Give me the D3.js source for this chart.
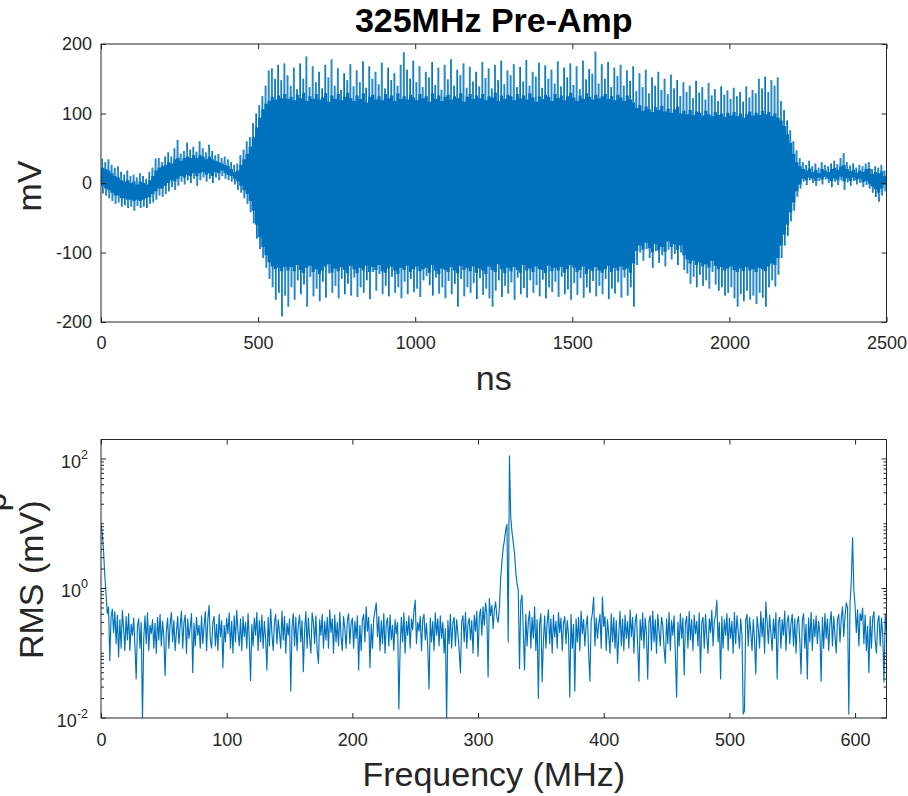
<!DOCTYPE html>
<html>
<head>
<meta charset="utf-8">
<script src="https://cdn.jsdelivr.net/npm/d3@7"></script>
<style>
  html, body { margin: 0; padding: 0; background: #fff; }
  svg { display: block; font-family: "Liberation Sans", Arial, Helvetica, sans-serif; }
</style>
</head>
<body>
<svg id="chart" width="908" height="796"></svg>
<script>
// ---- Time record, per 10 ns bin (mV) ----
const timeBinNs = 10;
// highest and lowest sample in each bin
const peakHigh = [
  35,30,34,26,22,24,16,12,18,10,
  12,8,14,10,6,16,22,35,36,30,
  38,44,38,50,62,42,46,58,48,52,
  45,60,50,44,55,46,40,42,36,38,
  34,30,26,28,40,48,60,66,86,100,
  112,125,140,162,165,150,170,148,172,155,
  140,166,135,172,150,182,138,168,145,160,
  136,170,152,178,140,165,134,158,148,171,
  139,162,145,175,137,168,150,160,142,173,
  136,166,148,158,140,170,188,163,150,176,
  145,168,138,160,152,174,141,166,134,170,
  149,178,140,163,155,172,137,167,146,160,
  139,174,151,165,136,170,148,176,142,162,
  155,171,138,167,146,177,140,160,153,173,
  137,169,150,163,143,175,139,166,152,172,
  141,168,135,176,149,164,157,189,143,171,
  150,174,138,166,154,170,140,162,147,168,
  132,158,138,163,129,152,140,160,134,150,
  128,156,136,148,125,145,131,140,122,147,
  130,138,120,144,126,135,118,139,127,133,
  121,137,125,131,117,139,123,134,129,150,
  136,153,131,148,140,152,118,105,90,76,
  60,47,36,30,26,32,24,28,22,30,
  26,24,28,32,27,36,43,30,25,28,
  22,26,24,28,30,20,24,22,26,18
];
const peakLow = [
  -15,-18,-22,-26,-30,-28,-34,-32,-36,-34,
  -40,-33,-36,-34,-36,-30,-28,-24,-18,-20,
  -16,-12,-6,-10,-4,2,-2,4,0,6,
  -4,4,8,2,6,0,8,4,10,6,
  4,2,-2,-10,-14,-22,-30,-42,-58,-80,
  -95,-108,-122,-138,-150,-168,-158,-192,-162,-178,
  -150,-168,-140,-160,-146,-178,-135,-163,-152,-170,
  -142,-165,-130,-158,-148,-166,-138,-160,-145,-162,
  -136,-164,-150,-158,-140,-167,-128,-155,-131,-160,
  -148,-163,-135,-158,-150,-166,-142,-160,-138,-157,
  -152,-164,-140,-134,-147,-162,-136,-159,-150,-166,
  -141,-160,-145,-178,-138,-163,-150,-158,-144,-167,
  -137,-161,-152,-166,-178,-155,-140,-164,-148,-159,
  -143,-168,-136,-160,-151,-165,-140,-158,-147,-163,
  -139,-166,-150,-157,-142,-164,-135,-160,-153,-168,
  -144,-161,-137,-165,-150,-158,-141,-163,-148,-160,
  -138,-167,-152,-159,-143,-165,-136,-162,-150,-178,
  -118,-100,-112,-95,-108,-122,-98,-115,-104,-120,
  -96,-110,-102,-118,-100,-125,-130,-145,-135,-150,
  -132,-148,-140,-152,-128,-146,-155,-150,-162,-158,
  -150,-166,-178,-160,-170,-155,-168,-162,-174,-158,
  -165,-178,-150,-140,-149,-132,-108,-90,-76,-55,
  -40,-20,-8,2,-3,4,0,-4,3,-2,
  5,0,-6,2,-3,4,-10,1,-4,3,
  -2,0,-6,-3,-8,-14,-20,-27,-18,-12
];
// edges of the solid part of the trace, where the strokes overlap
const denseHigh = [
  22,20,18,14,10,8,4,2,4,0,
  2,-2,2,0,-2,4,10,18,22,24,
  26,30,28,34,36,32,36,38,36,40,
  36,40,38,34,38,34,32,30,28,26,
  24,20,16,18,26,34,42,52,66,80,
  94,106,114,118,124,120,126,122,128,121,
  124,119,127,122,130,118,125,121,128,120,
  123,129,117,126,121,128,119,124,130,122,
  118,126,121,129,116,124,127,120,125,119,
  128,122,126,118,129,121,125,120,127,123,
  119,128,122,125,117,129,121,126,118,124,
  127,120,125,122,129,117,124,128,121,126,
  122,128,119,125,123,130,118,126,121,127,
  125,119,128,122,126,120,129,123,117,125,
  121,127,124,118,128,122,126,119,125,130,
  123,118,126,121,129,124,120,127,122,125,
  128,121,125,119,127,123,118,126,120,116,
  108,112,104,110,106,102,109,105,111,103,
  107,101,106,110,100,104,99,105,98,103,
  101,97,104,99,96,102,98,100,95,101,
  97,102,96,100,94,99,103,97,101,98,
  104,99,102,96,100,94,90,82,70,58,
  42,30,24,20,18,21,16,19,14,20,
  18,16,20,22,19,24,26,20,17,19,
  15,18,16,20,21,13,16,14,17,10
];
const denseLow = [
  -4,-8,-10,-14,-18,-18,-22,-22,-24,-24,
  -26,-24,-26,-24,-22,-20,-16,-12,-8,-8,
  -4,0,4,2,6,10,8,12,10,14,
  10,14,16,12,14,10,16,14,18,14,
  12,10,6,2,-4,-10,-16,-26,-40,-60,
  -78,-92,-104,-114,-120,-124,-122,-127,-121,-126,
  -121,-127,-118,-125,-130,-122,-119,-128,-124,-131,
  -126,-120,-117,-129,-123,-127,-121,-125,-130,-119,
  -124,-130,-122,-126,-119,-128,-121,-125,-118,-127,
  -129,-123,-120,-126,-131,-122,-125,-119,-128,-124,
  -120,-127,-124,-122,-129,-118,-126,-131,-123,-125,
  -128,-121,-126,-130,-119,-125,-122,-127,-120,-129,
  -123,-126,-131,-120,-125,-128,-117,-124,-130,-122,
  -127,-121,-125,-129,-118,-126,-123,-128,-120,-124,
  -125,-130,-119,-127,-122,-126,-121,-129,-124,-118,
  -122,-128,-125,-120,-131,-124,-127,-121,-126,-129,
  -124,-119,-128,-122,-126,-120,-125,-123,-129,-116,
  -98,-90,-96,-86,-94,-100,-88,-97,-92,-99,
  -84,-92,-88,-96,-90,-104,-110,-116,-112,-118,
  -114,-120,-117,-122,-112,-119,-124,-121,-126,-123,
  -120,-125,-128,-123,-127,-121,-126,-124,-128,-122,
  -124,-127,-120,-116,-118,-108,-90,-74,-60,-42,
  -28,-12,-2,6,4,8,6,3,8,5,
  9,6,3,7,4,9,2,7,3,8,
  4,6,1,3,-1,-5,-9,-14,-8,-3
];

// ---- Spectrum: RMS amplitude (mV) per 1 MHz bin, 0 to 625 MHz ----
const freqStepMHz = 1;
const rmsValues = [
  9.6,7.2,3.9,1.6,0.82,0.41,0.52,0.077,0.36,0.48,
  0.21,0.44,0.14,0.39,0.088,0.33,0.12,0.46,0.24,0.11,
  0.37,0.16,0.41,0.11,0.28,0.19,0.35,0.13,0.04,0.26,
  0.34,0.12,0.3,0.009,0.17,0.38,0.14,0.42,0.11,0.27,
  0.2,0.33,0.12,0.29,0.1,0.36,0.16,0.4,0.13,0.31,
  0.18,0.045,0.22,0.35,0.12,0.28,0.43,0.15,0.32,0.11,
  0.21,0.37,0.14,0.27,0.45,0.12,0.3,0.39,0.1,0.34,
  0.17,0.25,0.41,0.05,0.29,0.13,0.36,0.19,0.27,0.12,
  0.38,0.14,0.26,0.44,0.11,0.33,0.55,0.16,0.12,0.3,
  0.37,0.13,0.28,0.11,0.4,0.18,0.32,0.06,0.27,0.15,
  0.35,0.2,0.42,0.12,0.31,0.1,0.38,0.15,0.46,0.22,
  0.13,0.34,0.11,0.37,0.18,0.3,0.12,0.41,0.16,0.038,
  0.28,0.13,0.35,0.19,0.43,0.11,0.32,0.15,0.39,0.12,
  0.31,0.17,0.055,0.36,0.13,0.48,0.2,0.11,0.3,0.4,
  0.14,0.33,0.21,0.12,0.45,0.16,0.37,0.1,0.29,0.19,
  0.34,0.026,0.25,0.41,0.13,0.36,0.11,0.27,0.39,0.15,
  0.32,0.052,0.22,0.44,0.12,0.35,0.17,0.1,0.42,0.3,
  0.14,0.38,0.11,0.07,0.33,0.19,0.4,0.12,0.31,0.16,
  0.36,0.12,0.47,0.21,0.34,0.1,0.39,0.15,0.3,0.13,
  0.43,0.18,0.11,0.37,0.24,0.12,0.32,0.41,0.14,0.29,
  0.35,0.12,0.31,0.17,0.38,0.055,0.27,0.11,0.33,0.4,
  0.15,0.52,0.22,0.36,0.06,0.28,0.12,0.34,0.45,0.6,
  0.18,0.37,0.11,0.32,0.14,0.41,0.1,0.29,0.35,0.13,
  0.39,0.16,0.27,0.11,0.33,0.2,0.3,0.0138,0.12,0.36,
  0.15,0.42,0.1,0.31,0.19,0.38,0.12,0.34,0.23,0.45,
  0.66,0.14,0.3,0.22,0.37,0.11,0.33,0.4,0.16,0.29,
  0.12,0.028,0.35,0.15,0.31,0.11,0.42,0.19,0.34,0.13,
  0.38,0.17,0.3,0.1,0.24,0.009,0.32,0.14,0.4,0.12,
  0.29,0.36,0.13,0.33,0.2,0.11,0.05,0.31,0.38,0.15,
  0.43,0.12,0.28,0.35,0.16,0.32,0.1,0.39,0.22,0.45,
  0.09,0.36,0.48,0.19,0.52,0.27,0.6,0.41,0.043,0.7,
  0.38,0.55,0.24,0.47,0.62,0.36,0.3,0.5,1.45,2.6,
  4.2,5.6,7.9,9.8,0.15,112,13,7.5,5.2,3.6,
  1.8,1.2,0.95,0.058,0.62,0.79,0.22,0.055,0.4,0.13,
  0.31,0.45,0.12,0.36,0.17,0.52,0.11,0.33,0.02,0.29,
  0.41,0.036,0.15,0.38,0.12,0.3,0.47,0.14,0.34,0.1,
  0.39,0.18,0.31,0.12,0.43,0.21,0.35,0.11,0.29,0.37,
  0.14,0.32,0.19,0.021,0.4,0.12,0.28,0.026,0.34,0.15,
  0.36,0.11,0.45,0.2,0.33,0.13,0.27,0.38,0.1,0.037,
  0.31,0.42,0.74,0.13,0.35,0.17,0.28,0.4,0.12,0.74,
  0.26,0.37,0.11,0.33,0.19,0.1,0.41,0.15,0.36,0.12,
  0.32,0.07,0.2,0.44,0.13,0.34,0.11,0.39,0.17,0.31,
  0.12,0.47,0.18,0.36,0.1,0.3,0.4,0.14,0.037,0.33,
  0.16,0.42,0.12,0.35,0.2,0.04,0.31,0.38,0.11,0.45,
  0.15,0.33,0.1,0.4,0.22,0.13,0.36,0.27,0.12,0.07,
  0.34,0.14,0.43,0.11,0.32,0.19,0.38,0.1,0.021,0.3,
  0.13,0.41,0.17,0.35,0.046,0.29,0.37,0.12,0.44,0.16,
  0.33,0.11,0.39,0.2,0.31,0.13,0.42,0.05,0.3,0.36,
  0.12,0.4,0.18,0.1,0.34,0.21,0.46,0.13,0.32,0.38,
  0.66,0.15,0.3,0.04,0.37,0.12,0.33,0.19,0.41,0.11,
  0.35,0.17,0.31,0.1,0.43,0.14,0.38,0.22,0.12,0.34,
  0.19,0.0115,0.013,0.32,0.4,0.13,0.36,0.21,0.11,0.33,
  0.16,0.048,0.37,0.24,0.12,0.44,0.18,0.35,0.1,0.62,
  0.31,0.14,0.39,0.2,0.11,0.34,0.17,0.42,0.04,0.3,
  0.36,0.12,0.33,0.19,0.45,0.11,0.31,0.38,0.14,0.29,
  0.4,0.13,0.34,0.1,0.3,0.37,0.16,0.048,0.32,0.41,
  0.12,0.28,0.04,0.35,0.15,0.43,0.11,0.33,0.18,0.38,
  0.14,0.31,0.2,0.037,0.36,0.12,0.41,0.17,0.34,0.11,
  0.3,0.44,0.13,0.37,0.19,0.1,0.33,0.4,0.15,0.35,
  0.52,0.18,0.38,0.6,0.5,0.0115,0.62,1.3,6.1,0.95,
  0.55,0.21,0.47,0.13,0.41,0.32,0.5,0.14,0.39,0.11,
  0.26,0.05,0.37,0.12,0.34,0.44,0.16,0.1,0.31,0.38,
  0.13,0.35,0.19,0.036,0.4,0.2
];

// ---- Axis ticks and text ----
const timeTicks = [0, 500, 1000, 1500, 2000, 2500];
const voltTicks = [-200, -100, 0, 100, 200];
const freqTicks = [0, 100, 200, 300, 400, 500, 600];
const rmsExponents = [-2, 0, 2];
const chartTitle = "325MHz Pre-Amp";
const timeLabel = "ns";
const voltLabel = "mV";
const freqLabel = "Frequency (MHz)";
const rmsLabel = "RMS (mV)";

const LINE = "#0072BD";
const AXIS = "#262626";
const plainNumber = d => String(d);

const svg = d3.select("#chart");

const left = 101, right = 886.5;
const top1 = 44, bottom1 = 322;
const top2 = 439.5, bottom2 = 718;

// ---------- Upper panel: waveform ----------
const x1 = d3.scaleLinear().domain([0, 2500]).range([left, right]);
const y1 = d3.scaleLinear().domain([-200, 200]).range([bottom1, top1]);

svg.append("clipPath").attr("id", "clipTop")
  .append("rect").attr("x", left).attr("y", top1)
  .attr("width", right - left).attr("height", bottom1 - top1);

const bins = peakHigh.map((hi, i) => ({
  t: i * timeBinNs + timeBinNs / 2,
  hi: hi, lo: peakLow[i],
  denseHi: denseHigh[i], denseLo: denseLow[i]
}));
const n = bins.length;
const denseBand = [
  { t: 0, denseHi: denseHigh[0], denseLo: denseLow[0] },
  ...bins,
  { t: n * timeBinNs, denseHi: denseHigh[n - 1], denseLo: denseLow[n - 1] }
];

const waveG = svg.append("g").attr("clip-path", "url(#clipTop)");
waveG.append("path")
  .attr("d", d3.area()
    .curve(d3.curveStep)
    .x(d => x1(d.t))
    .y0(d => y1(d.denseLo))
    .y1(d => y1(d.denseHi))(denseBand))
  .attr("fill", LINE);
// sample-to-sample strokes reaching each bin's extremes
const zig = [];
bins.forEach(d => { zig.push([d.t - 2.5, d.hi]); zig.push([d.t + 2.5, d.lo]); });
waveG.append("path")
  .attr("d", d3.line().x(d => x1(d[0])).y(d => y1(d[1]))(zig))
  .attr("fill", "none").attr("stroke", LINE).attr("stroke-width", 0.8)
  .attr("stroke-opacity", 0.75);
waveG.selectAll("line.col").data(bins).join("line")
  .attr("x1", d => x1(d.t)).attr("x2", d => x1(d.t))
  .attr("y1", d => y1(d.lo)).attr("y2", d => y1(d.hi))
  .attr("stroke", LINE).attr("stroke-width", 1);

// frame + ticks
function frame(top, bottom) {
  svg.append("rect")
    .attr("x", left).attr("y", top)
    .attr("width", right - left).attr("height", bottom - top)
    .attr("fill", "none").attr("stroke", AXIS).attr("stroke-width", 1);
}
function styleAxis(g) {
  g.select(".domain").remove();
  g.selectAll(".tick line").attr("stroke", AXIS).attr("stroke-width", 1);
  g.selectAll(".tick text")
    .attr("fill", AXIS)
    .style("font-size", "18px")
    .style("font-family", '"Liberation Sans", Arial, sans-serif');
}

frame(top1, bottom1);
svg.append("g").attr("transform", `translate(0,${bottom1})`)
  .call(d3.axisBottom(x1).tickValues(timeTicks).tickSize(-5).tickSizeOuter(0).tickPadding(14).tickFormat(plainNumber))
  .call(styleAxis);
svg.append("g").attr("transform", `translate(0,${top1})`)
  .call(d3.axisTop(x1).tickValues(timeTicks).tickSize(-5).tickSizeOuter(0).tickFormat(""))
  .call(styleAxis);
svg.append("g").attr("transform", `translate(${left},0)`)
  .call(d3.axisLeft(y1).tickValues(voltTicks).tickSize(-5).tickSizeOuter(0).tickPadding(9).tickFormat(plainNumber))
  .call(styleAxis);
svg.append("g").attr("transform", `translate(${right},0)`)
  .call(d3.axisRight(y1).tickValues(voltTicks).tickSize(-5).tickSizeOuter(0).tickFormat(""))
  .call(styleAxis);

// ---------- Lower panel: spectrum ----------
const x2 = d3.scaleLinear().domain([0, 625]).range([left, right]);
const y2 = d3.scaleLog().domain([0.01, 200]).range([bottom2, top2]);

svg.append("clipPath").attr("id", "clipBottom")
  .append("rect").attr("x", left).attr("y", top2)
  .attr("width", right - left).attr("height", bottom2 - top2);

svg.append("path")
  .attr("clip-path", "url(#clipBottom)")
  .attr("d", d3.line()
    .x((d, i) => x2(i * freqStepMHz))
    .y(d => y2(Math.max(d, 0.005)))(rmsValues))
  .attr("fill", "none")
  .attr("stroke", LINE)
  .attr("stroke-width", 1.15)
  .attr("stroke-linejoin", "round");

frame(top2, bottom2);
svg.append("g").attr("transform", `translate(0,${bottom2})`)
  .call(d3.axisBottom(x2).tickValues(freqTicks).tickSize(-5).tickSizeOuter(0).tickPadding(15).tickFormat(plainNumber))
  .call(styleAxis);
svg.append("g").attr("transform", `translate(0,${top2})`)
  .call(d3.axisTop(x2).tickValues(freqTicks).tickSize(-5).tickSizeOuter(0).tickFormat(""))
  .call(styleAxis);

// log ticks: labelled decades and minor ticks at the other 1..9 x 10^n
const majorRms = rmsExponents.map(e => Math.pow(10, e));
const minorRms = [];
for (let e = -2; e <= 2; e++) {
  for (let k = 1; k <= 9; k++) {
    const v = k * Math.pow(10, e);
    if (v <= 200 && !majorRms.some(m => Math.abs(m - v) < 1e-9)) minorRms.push(v);
  }
}
[left, right].forEach(xPos => {
  const dir = xPos === left ? 1 : -1;
  svg.append("g").selectAll("line").data(minorRms).join("line")
    .attr("x1", xPos).attr("x2", xPos + dir * 3)
    .attr("y1", d => y2(d)).attr("y2", d => y2(d))
    .attr("stroke", AXIS).attr("stroke-width", 1);
  svg.append("g").selectAll("line").data(majorRms).join("line")
    .attr("x1", xPos).attr("x2", xPos + dir * 5)
    .attr("y1", d => y2(d)).attr("y2", d => y2(d))
    .attr("stroke", AXIS).attr("stroke-width", 1);
});

const rmsLabels = svg.append("g").selectAll("text").data(rmsExponents).join("text")
  .attr("x", left - 13)
  .attr("y", e => y2(Math.pow(10, e)) + 9)
  .attr("text-anchor", "end")
  .attr("fill", AXIS)
  .style("font-size", "18px");
rmsLabels.append("tspan").text("10");
rmsLabels.append("tspan")
  .attr("dy", -9)
  .style("font-size", "12.5px")
  .text(e => String(e));

// ---------- Text ----------
svg.append("text")
  .attr("x", (left + right) / 2).attr("y", 32)
  .attr("text-anchor", "middle")
  .attr("fill", "#000")
  .style("font-size", "34px").style("font-weight", "bold")
  .text(chartTitle);

svg.append("text")
  .attr("x", (left + right) / 2).attr("y", 390)
  .attr("text-anchor", "middle").attr("fill", AXIS)
  .style("font-size", "34px")
  .text(timeLabel);

svg.append("text")
  .attr("x", (left + right) / 2).attr("y", 786)
  .attr("text-anchor", "middle").attr("fill", AXIS)
  .style("font-size", "34px")
  .text(freqLabel);

svg.append("text")
  .attr("transform", `translate(41,${(top1 + bottom1) / 2 + 3}) rotate(-90)`)
  .attr("text-anchor", "middle").attr("fill", AXIS)
  .style("font-size", "34px")
  .text(voltLabel);

svg.append("text")
  .attr("transform", `translate(43,${(top2 + bottom2) / 2 + 1}) rotate(-90)`)
  .attr("text-anchor", "middle").attr("fill", AXIS)
  .style("font-size", "34px")
  .text(rmsLabel);

// edge of a further label line, cut off by the left border
svg.append("text")
  .attr("transform", "translate(6,502) rotate(-90)")
  .attr("text-anchor", "middle").attr("fill", AXIS)
  .style("font-size", "34px")
  .text("p");
</script>
</body>
</html>
